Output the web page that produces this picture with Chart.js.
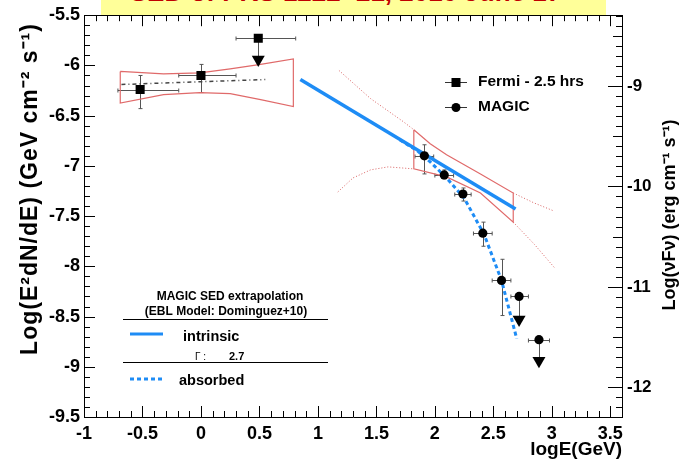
<!DOCTYPE html>
<html>
<head>
<meta charset="utf-8">
<script src="https://cdn.jsdelivr.net/npm/chart.js@4.4.1/dist/chart.umd.min.js"></script>
<style>
  body { margin: 0; background: #fff; }
  #wrap { position: relative; width: 681px; height: 459px; }
  #title { position: absolute; left: 101px; top: 0; width: 505px; height: 15px; background: #ffff99; overflow: hidden; z-index: 2; }
  #title span { display: block; margin-top: -21px; padding-right: 16px; text-align: center; white-space: nowrap;
                font: bold 26px/26px "Liberation Sans", Arial, sans-serif; color: #c00000; }
</style>
</head>
<body>
<div id="wrap">
  <canvas id="sed" width="681" height="459"></canvas>
  <div id="title"><span>SED of PKS 1222+21, 2010 June 17</span></div>
</div>
<script>
const FONT = '"Liberation Sans", Arial, sans-serif';

// axes
const xTicks = [-1, -0.5, 0, 0.5, 1, 1.5, 2, 2.5, 3, 3.5];
const yTicks = [-9.5, -9, -8.5, -8, -7.5, -7, -6.5, -6, -5.5];
const y2Ticks = [-12, -11, -10, -9];
const logGeVtoErg = Math.log10(1.602e-3);

// Fermi - 2.5 hrs
const fermiE        = [-0.52, 0.00, 0.49];
const fermiFlux     = [-6.24, -6.10, -5.73];
const fermiELow     = [-0.71, -0.19, 0.30];
const fermiEHigh    = [-0.19, 0.30, 0.81];
const fermiFluxLow  = [-6.43, -6.27, -5.94];
const fermiFluxHigh = [-6.10, -5.99, -5.73];
const fermiUL       = [false, false, true];

// MAGIC
const magicE        = [1.91, 2.08, 2.24, 2.41, 2.57, 2.72, 2.89];
const magicFlux     = [-6.90, -7.09, -7.28, -7.67, -8.14, -8.30, -8.73];
const magicELow     = [1.83, 2.00, 2.17, 2.33, 2.49, 2.65, 2.80];
const magicEHigh    = [1.99, 2.16, 2.31, 2.49, 2.65, 2.80, 2.98];
const magicFluxLow  = [-7.08, -7.13, -7.35, -7.80, -8.49, -8.53, -8.94];
const magicFluxHigh = [-6.79, -7.04, -7.22, -7.56, -7.93, -8.30, -8.73];
const magicUL       = [false, false, false, false, false, true, true];

// upper limit arrow heads
const ulE    = [0.49, 2.72, 2.89];
const ulFlux = [-5.94, -8.53, -8.94];

// Fermi fit and butterfly
const fermiFitE    = [-0.68, 0.55];
const fermiFitFlux = [-6.19, -6.14];
const fermiBowE    = [-0.69, -0.32, -0.01, 0.25, 0.51, 0.79, 0.79, 0.51, 0.25, -0.01, -0.32, -0.69, -0.69];
const fermiBowFlux = [-6.06, -6.085, -6.075, -6.035, -5.99, -5.935, -6.41, -6.34, -6.28, -6.27, -6.29, -6.375, -6.06];

// MAGIC butterfly and its extension
const magicBowE    = [1.82, 1.96, 2.10, 2.39, 2.67, 2.67, 2.39, 2.10, 1.82, 1.82];
const magicBowFlux = [-6.64, -6.78, -6.89, -7.08, -7.27, -7.56, -7.27, -7.11, -7.03, -6.64];
const extUpLeftE     = [1.18, 1.45, 1.73, 1.82];
const extUpLeftFlux  = [-6.05, -6.33, -6.56, -6.64];
const extLowLeftE    = [1.17, 1.30, 1.45, 1.60, 1.82];
const extLowLeftFlux = [-7.26, -7.12, -7.04, -7.01, -7.03];
const extUpRightE    = [2.67, 2.85, 3.02];
const extUpRightFlux = [-7.27, -7.37, -7.45];
const extLowRightE   = [2.67, 2.85, 3.02];
const extLowRightFlux= [-7.56, -7.78, -8.01];

// extrapolation (Gamma 2.7)
const intrinsicE    = [0.85, 2.69];
const intrinsicFlux = [-6.14, -7.43];
const absorbedE     = [1.70, 1.85, 1.96, 2.10, 2.25, 2.42, 2.57, 2.70];
const absorbedFlux  = [-6.74, -6.85, -6.96, -7.12, -7.32, -7.68, -8.14, -8.72];

const pts = (xs, ys) => xs.map((v, i) => ({ x: v, y: ys[i] }));
const RED = '#e06a6a';
const BLUE = '#1e8cf5';

const line = (label, xs, ys, color, width, dash) => ({
  label: label, data: pts(xs, ys), showLine: true, borderColor: color,
  borderWidth: width, borderDash: dash || [], pointRadius: 0, fill: false
});

const errorBars = {
  id: 'errorBars',
  beforeDatasetsDraw(chart) {
    const { ctx, scales: { x, y } } = chart;
    const sets = [
      [fermiE, fermiFlux, fermiELow, fermiEHigh, fermiFluxLow, fermiFluxHigh, fermiUL],
      [magicE, magicFlux, magicELow, magicEHigh, magicFluxLow, magicFluxHigh, magicUL]
    ];
    ctx.save();
    ctx.strokeStyle = '#555';
    ctx.lineWidth = 1;
    ctx.beginPath();
    sets.forEach(([e, f, eLo, eHi, fLo, fHi, ul]) => {
      e.forEach((v, i) => {
        const px = Math.round(x.getPixelForValue(v)) + 0.5;
        const py = Math.round(y.getPixelForValue(f[i])) + 0.5;
        const x0 = x.getPixelForValue(eLo[i]), x1 = x.getPixelForValue(eHi[i]);
        const y0 = y.getPixelForValue(fLo[i]), y1 = y.getPixelForValue(fHi[i]);
        ctx.moveTo(x0, py); ctx.lineTo(x1, py);
        ctx.moveTo(x0, py - 2); ctx.lineTo(x0, py + 2);
        ctx.moveTo(x1, py - 2); ctx.lineTo(x1, py + 2);
        ctx.moveTo(px, y0); ctx.lineTo(px, y1);
        if (!ul[i]) {
          ctx.moveTo(px - 2, y0); ctx.lineTo(px + 2, y0);
          ctx.moveTo(px - 2, y1); ctx.lineTo(px + 2, y1);
        }
      });
    });
    ctx.stroke();
    ctx.restore();
  }
};

const innerTicks = {
  id: 'innerTicks',
  afterDraw(chart) {
    const { ctx, chartArea: a, scales: s } = chart;
    ctx.save();
    ctx.strokeStyle = '#000';
    ctx.lineWidth = 1;
    ctx.beginPath();
    for (let k = -10; k <= 36; k++) {
      const px = Math.round(s.x.getPixelForValue(k / 10)) + 0.5;
      const len = k % 5 === 0 ? 11 : 6;
      ctx.moveTo(px, a.bottom); ctx.lineTo(px, a.bottom - len);
      ctx.moveTo(px, a.top); ctx.lineTo(px, a.top + len);
    }
    for (let k = -95; k <= -55; k++) {
      const py = Math.round(s.y.getPixelForValue(k / 10)) + 0.5;
      const len = k % 5 === 0 ? 11 : 6;
      ctx.moveTo(a.left, py); ctx.lineTo(a.left + len, py);
    }
    for (let k = -122; k <= -83; k++) {
      const py = Math.round(s.y2.getPixelForValue(k / 10)) + 0.5;
      const len = k % 10 === 0 ? 14 : (k % 5 === 0 ? 9 : 6);
      ctx.moveTo(a.right, py); ctx.lineTo(a.right - len, py);
    }
    ctx.stroke();

    // axis titles, both reading bottom to top
    ctx.fillStyle = '#000';
    ctx.textAlign = 'center';
    ctx.textBaseline = 'middle';

    ctx.save();
    ctx.translate(31, 189);
    ctx.rotate(-Math.PI / 2);
    ctx.font = 'bold 23px ' + FONT;
    ctx.letterSpacing = '1px';
    ctx.fillText('Log(E\u00B2dN/dE) (GeV cm\u207B\u00B2 s\u207B\u00B9)', 0, 0);
    ctx.restore();

    ctx.save();
    ctx.translate(670, 215);
    ctx.rotate(-Math.PI / 2);
    ctx.font = 'bold 18px ' + FONT;
    ctx.fillText('Log(\u03BDF\u03BD) (erg cm\u207B\u00B9 s\u207B\u00B9)', 0, 0);
    ctx.restore();
    ctx.restore();
  }
};

const legends = {
  id: 'legends',
  afterDraw(chart) {
    const { ctx } = chart;
    ctx.save();
    ctx.fillStyle = '#000';
    ctx.strokeStyle = '#333';
    ctx.lineWidth = 1;
    // data legend
    ctx.beginPath();
    ctx.moveTo(445, 82.5); ctx.lineTo(467, 82.5);
    ctx.moveTo(445, 107.5); ctx.lineTo(467, 107.5);
    ctx.stroke();
    ctx.fillRect(451.5, 78, 9, 9);
    ctx.beginPath(); ctx.arc(456, 107.5, 4.5, 0, Math.PI * 2); ctx.fill();
    ctx.font = 'bold 15.5px ' + FONT;
    ctx.textBaseline = 'middle';
    ctx.textAlign = 'left';
    ctx.fillText('Fermi - 2.5 hrs', 478, 82);
    ctx.fillText('MAGIC', 478, 107);

    // extrapolation legend
    ctx.textBaseline = 'alphabetic';
    ctx.textAlign = 'center';
    ctx.font = 'bold 12px ' + FONT;
    ctx.fillText('MAGIC SED extrapolation', 230, 300);
    ctx.fillText('(EBL Model: Dominguez+10)', 226, 315);
    ctx.strokeStyle = '#000';
    ctx.beginPath();
    ctx.moveTo(123, 319.5); ctx.lineTo(328, 319.5);
    ctx.moveTo(123, 362.5); ctx.lineTo(328, 362.5);
    ctx.stroke();
    ctx.strokeStyle = BLUE;
    ctx.lineWidth = 3;
    ctx.beginPath(); ctx.moveTo(130, 334); ctx.lineTo(163, 334); ctx.stroke();
    ctx.setLineDash([4, 3]);
    ctx.beginPath(); ctx.moveTo(130, 379); ctx.lineTo(163, 379); ctx.stroke();
    ctx.setLineDash([]);
    ctx.textAlign = 'left';
    ctx.font = 'bold 14.5px ' + FONT;
    ctx.fillText('intrinsic', 183, 341);
    ctx.fillText('absorbed', 179, 385);
    ctx.font = '10px ' + FONT;
    ctx.fillText('\u0393 :', 195, 360);
    ctx.font = 'bold 11px ' + FONT;
    ctx.fillText('2.7', 229, 360);
    ctx.restore();
  }
};

const tickFont = size => ({ family: FONT, size: size, weight: 'bold' });

new Chart(document.getElementById('sed'), {
  type: 'scatter',
  data: {
    datasets: [
      { label: 'UL', data: pts(ulE, ulFlux), pointStyle: 'triangle', rotation: 180, pointRadius: 7.5,
        backgroundColor: '#000', borderColor: '#000', borderWidth: 0 },
      { label: 'Fermi - 2.5 hrs', data: pts(fermiE, fermiFlux), pointStyle: 'rect', pointRadius: 6.4,
        backgroundColor: '#000', borderColor: '#000', borderWidth: 0 },
      { label: 'MAGIC', data: pts(magicE, magicFlux), pointStyle: 'circle', pointRadius: 4.6,
        backgroundColor: '#000', borderColor: '#000', borderWidth: 0 },
      line('absorbed', absorbedE, absorbedFlux, BLUE, 3, [4, 3]),
      line('intrinsic', intrinsicE, intrinsicFlux, BLUE, 3.5),
      line('Fermi fit', fermiFitE, fermiFitFlux, '#444', 1.5, [4, 3, 1, 3]),
      line('Fermi butterfly', fermiBowE, fermiBowFlux, RED, 1.2),
      line('MAGIC butterfly', magicBowE, magicBowFlux, RED, 1.2),
      line('ext1', extUpLeftE, extUpLeftFlux, '#d86060', 1, [1, 2]),
      line('ext2', extLowLeftE, extLowLeftFlux, '#d86060', 1, [1, 2]),
      line('ext3', extUpRightE, extUpRightFlux, '#d86060', 1, [1, 2]),
      line('ext4', extLowRightE, extLowRightFlux, '#d86060', 1, [1, 2])
    ]
  },
  options: {
    responsive: false,
    animation: false,
    layout: { padding: { top: 12, left: 0, right: 0, bottom: 0 } },
    plugins: { legend: { display: false }, tooltip: { enabled: false } },
    scales: {
      x: {
        type: 'linear', position: 'bottom', min: -1, max: 3.6,
        afterBuildTicks: s => { s.ticks = xTicks.map(v => ({ value: v })); },
        afterFit: s => { s.height = 42; },
        grid: { display: false, drawTicks: false },
        border: { display: true, color: '#000', width: 1 },
        ticks: { color: '#000', font: tickFont(18), padding: 6, maxRotation: 0, autoSkip: false,
                 callback: v => String(v) },
        title: { display: true, text: 'logE(GeV)', align: 'end', color: '#000',
                 font: { family: FONT, size: 19, weight: 'bold', lineHeight: 1 }, padding: { top: 0, bottom: 0 } }
      },
      x2: {
        type: 'linear', position: 'top', min: -1, max: 3.6,
        afterFit: s => { s.height = 0; },
        grid: { display: false, drawTicks: false },
        border: { display: true, color: '#000', width: 1 },
        ticks: { display: false }
      },
      y: {
        type: 'linear', position: 'left', min: -9.5, max: -5.5,
        afterBuildTicks: s => { s.ticks = yTicks.map(v => ({ value: v })); },
        afterFit: s => { s.width = 84; },
        grid: { display: false, drawTicks: false },
        border: { display: true, color: '#000', width: 1 },
        ticks: { color: '#000', font: tickFont(18), padding: 4, autoSkip: false, callback: v => String(v) }
      },
      y2: {
        type: 'linear', position: 'right',
        min: -9.5 + logGeVtoErg, max: -5.5 + logGeVtoErg,
        afterBuildTicks: s => { s.ticks = y2Ticks.map(v => ({ value: v })); },
        afterFit: s => { s.width = 59; },
        grid: { display: false, drawTicks: false },
        border: { display: true, color: '#000', width: 1 },
        ticks: { color: '#000', font: tickFont(17), padding: 5, autoSkip: false, callback: v => String(v) }
      }
    }
  },
  plugins: [errorBars, innerTicks, legends]
});
</script>
</body>
</html>
